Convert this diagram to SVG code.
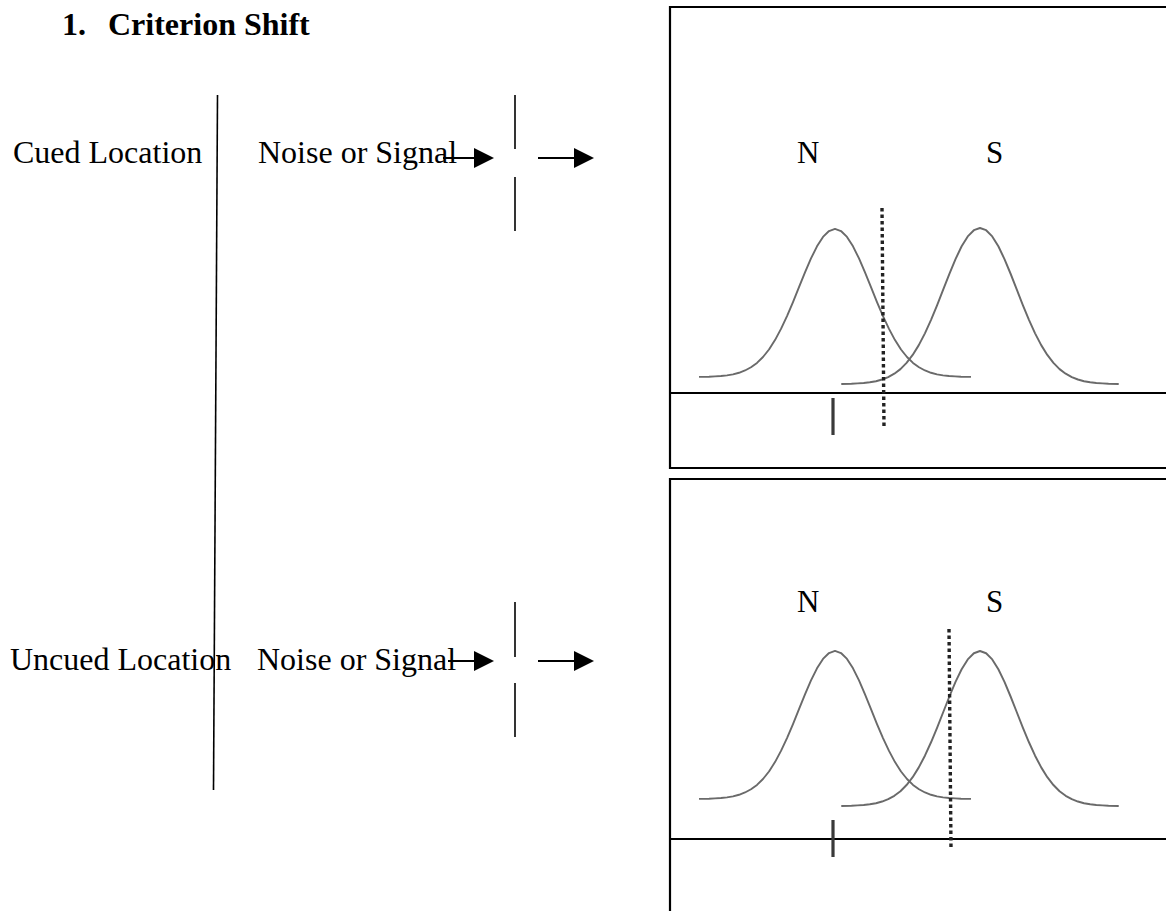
<svg xmlns="http://www.w3.org/2000/svg" xmlns:xlink="http://www.w3.org/1999/xlink" width="1166" height="911" viewBox="0 0 1166 911">
<style>
  text { font-family: "Liberation Serif", "Times New Roman", serif; fill: #000; }
  .title { font-size: 32px; font-weight: bold; }
  .lbl { font-size: 32px; }
  .ns { font-size: 31px; }
  .thin { stroke: #000; stroke-width: 1.6; fill: none; }
  .box { stroke: #000; stroke-width: 2.2; fill: none; }
  .curve { stroke: #6a6a6a; stroke-width: 1.9; fill: none; stroke-linejoin: round; }
  .crit { stroke: #222; stroke-width: 3.4; stroke-dasharray: 3.5 3; fill: none; }
  .tick { stroke: #3a3a3a; stroke-width: 3.2; }
  .arrow { stroke: #000; stroke-width: 2; fill: none; marker-end: url(#ah); }
</style>
<defs>
  <marker id="ah" markerUnits="userSpaceOnUse" viewBox="0 0 20 20" markerWidth="20" markerHeight="20" refX="10" refY="10" orient="auto">
    <path d="M0,0 L20,10 L0,20 Z" fill="#000"/>
  </marker>
  <path id="gauss" d="M-136,-0.1 L-126,-0.3 L-120,-0.6 L-114,-1 L-108,-1.7 L-102,-2.7 L-96,-4.3 L-90,-6.6 L-84,-9.9 L-78,-14.3 L-72,-20.3 L-66,-27.9 L-60,-37.4 L-54,-48.7 L-48,-61.7 L-42,-75.9 L-36,-91 L-30,-106 L-24,-120.1 L-18,-132.4 L-12,-141.9 L-6,-147.9 L0,-150 L6,-147.9 L12,-141.9 L18,-132.4 L24,-120.1 L30,-106 L36,-91 L42,-75.9 L48,-61.7 L54,-48.7 L60,-37.4 L66,-27.9 L72,-20.3 L78,-14.3 L84,-9.9 L90,-6.6 L96,-4.3 L102,-2.7 L108,-1.7 L114,-1 L120,-0.6 L126,-0.3 L136,-0.1"/>
</defs>
<rect x="0" y="0" width="1166" height="911" fill="#fff"/>

<g id="title">
  <text class="title" x="62" y="35">1.</text>
  <text class="title" x="108" y="35">Criterion Shift</text>
</g>

<g id="divider">
  <line class="thin" x1="217.5" y1="95" x2="213.5" y2="790"/>
</g>

<g id="cued-location">
  <text class="lbl" x="13" y="163">Cued Location</text>
</g>
<g id="cued-stimulus">
  <text class="lbl" x="258" y="163">Noise or Signal</text>
</g>
<g id="cued-gate">
  <line class="thin" x1="515" y1="95" x2="515" y2="149"/>
  <line class="thin" x1="515" y1="177" x2="515" y2="231"/>
</g>

<g id="uncued-location">
  <text class="lbl" x="10" y="670">Uncued Location</text>
</g>
<g id="uncued-stimulus">
  <text class="lbl" x="257" y="670">Noise or Signal</text>
</g>
<g id="uncued-gate">
  <line class="thin" x1="515" y1="602" x2="515" y2="657"/>
  <line class="thin" x1="515" y1="683" x2="515" y2="737"/>
</g>

<g id="connectors">
  <line class="arrow" x1="443" y1="158" x2="484" y2="158"/>
  <line class="arrow" x1="538" y1="158" x2="584" y2="158"/>
  <line class="arrow" x1="448" y1="661" x2="484" y2="661"/>
  <line class="arrow" x1="538" y1="661" x2="584" y2="661"/>
</g>

<g id="panel-cued">
  <path class="box" d="M1168,7 H670 V468 H1168"/>
  <line class="box" x1="670" y1="393" x2="1168" y2="393"/>
  <text class="ns" x="797" y="163">N</text>
  <text class="ns" x="986" y="163">S</text>
  <use xlink:href="#gauss" href="#gauss" class="curve" transform="translate(835,377) scale(1,0.987)"/>
  <use xlink:href="#gauss" href="#gauss" class="curve" transform="translate(980,384) scale(1.02,1.04)"/>
  <line class="crit" x1="882" y1="208" x2="884" y2="428"/>
  <line class="tick" x1="833" y1="398" x2="833" y2="435"/>
</g>

<g id="panel-uncued">
  <path class="box" d="M1168,479 H670 V913"/>
  <line class="box" x1="670" y1="839" x2="1168" y2="839"/>
  <text class="ns" x="797" y="612">N</text>
  <text class="ns" x="986" y="612">S</text>
  <use xlink:href="#gauss" href="#gauss" class="curve" transform="translate(835,799) scale(1,0.987)"/>
  <use xlink:href="#gauss" href="#gauss" class="curve" transform="translate(980,806) scale(1.02,1.033)"/>
  <line class="crit" x1="949" y1="629" x2="951" y2="850"/>
  <line class="tick" x1="833" y1="820" x2="833" y2="857"/>
</g>
</svg>
